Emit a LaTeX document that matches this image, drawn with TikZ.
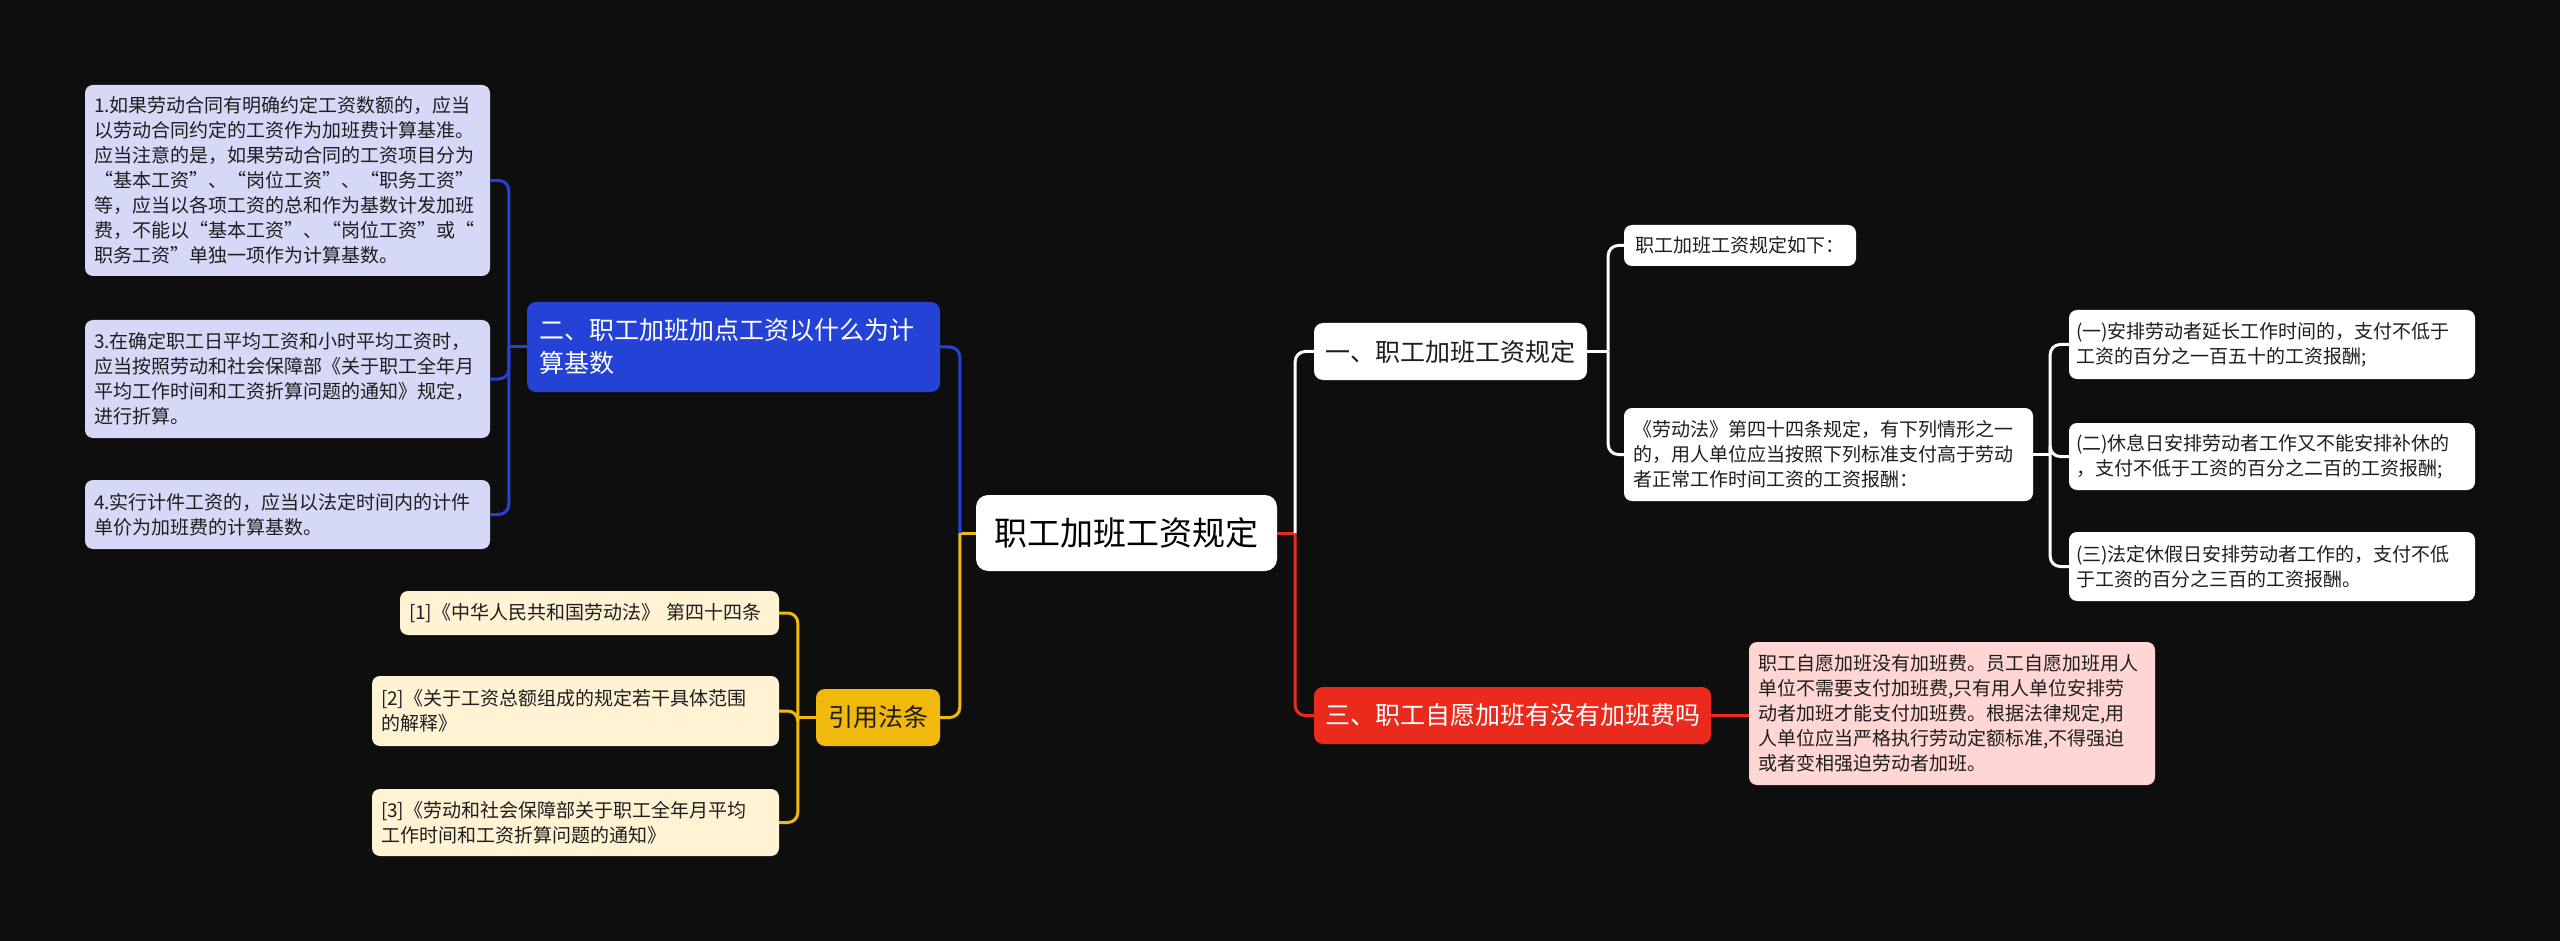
\documentclass[tikz,border=0pt]{standalone}
\usepackage{fontspec}
\setmainfont{Noto Sans CJK SC}
\definecolor{bgc}{RGB}{14,14,14}
\definecolor{lav}{RGB}{213,217,247}
\definecolor{cream}{RGB}{255,243,212}
\definecolor{pinkc}{RGB}{255,214,212}
\definecolor{bluec}{RGB}{37,66,214}
\definecolor{yelc}{RGB}{240,185,12}
\definecolor{redc}{RGB}{233,42,28}
\definecolor{txt}{RGB}{30,30,30}
\begin{document}
\begin{tikzpicture}[x=1pt,y=-1pt,
  base/.style={rounded corners=8pt, inner xsep=9pt, inner ysep=0pt, align=left, text=txt},
  leaf/.style={base, font=\fontsize{19}{25}\selectfont},
  leafL/.style={leaf, fill=lav},
  leafY/.style={leaf, fill=cream},
  leafW/.style={leaf, fill=white},
  leafP/.style={leaf, fill=pinkc},
  mainnode/.style={rounded corners=9pt, inner sep=0pt, align=left, font=\fontsize{25}{33}\selectfont},
  conn/.style={line width=3pt, rounded corners=10pt},
  bline/.style={conn, draw=bluec},
  yline/.style={conn, draw=yelc},
  rline/.style={conn, draw=redc},
  wline/.style={conn, draw=white}
]
\fill[bgc] (0,0) rectangle (2560,941);
\useasboundingbox (0,0) rectangle (2560,941);

% root
\node[rounded corners=12pt, fill=white, text=black, inner sep=0pt,
  minimum width=301pt, minimum height=76pt, font=\fontsize{33}{40}\selectfont]
  (root) at (1126.5,533) {职工加班工资规定};

% left: blue branch
\node[mainnode, fill=bluec, text=white, minimum width=413pt, minimum height=90pt,
  text width=389pt] (bnode) at (733.5,347)
  {二、职工加班加点工资以什么为计\\算基数};
\node[leafL, minimum width=405pt, minimum height=191pt, text width=387pt] (L1) at (287.5,180.5)
  {1.如果劳动合同有明确约定工资数额的，应当\\以劳动合同约定的工资作为加班费计算基准。\\应当注意的是，如果劳动合同的工资项目分为\\“基本工资”、“岗位工资”、“职务工资”\\等，应当以各项工资的总和作为基数计发加班\\费，不能以“基本工资”、“岗位工资”或“\\职务工资”单独一项作为计算基数。};
\node[leafL, minimum width=405pt, minimum height=118pt, text width=387pt] (L3) at (287.5,379)
  {3.在确定职工日平均工资和小时平均工资时，\\应当按照劳动和社会保障部《关于职工全年月\\平均工作时间和工资折算问题的通知》规定，\\进行折算。};
\node[leafL, minimum width=405pt, minimum height=69pt, text width=387pt] (L4) at (287.5,514.5)
  {4.实行计件工资的，应当以法定时间内的计件\\单价为加班费的计算基数。};

% left: yellow branch
\node[mainnode, fill=yelc, text=txt, minimum width=124pt, minimum height=57pt] (ynode) at (878,717.5) {引用法条};
\node[leafY, minimum width=379pt, minimum height=44pt, text width=361pt] (Y1) at (589.5,613)
  {[1]《中华人民共和国劳动法》 第四十四条};
\node[leafY, minimum width=407pt, minimum height=70pt, text width=389pt] (Y2) at (575.5,711)
  {[2]《关于工资总额组成的规定若干具体范围\\的解释》};
\node[leafY, minimum width=407pt, minimum height=67pt, text width=389pt] (Y3) at (575.5,822.5)
  {[3]《劳动和社会保障部关于职工全年月平均\\工作时间和工资折算问题的通知》};

% right: white branch
\node[mainnode, fill=white, text=txt, minimum width=273pt, minimum height=57pt] (one) at (1450.5,351.5) {一、职工加班工资规定};
\node[leafW, minimum width=232pt, minimum height=41pt] (R1) at (1740,245.5) {职工加班工资规定如下：};
\node[leafW, minimum width=409pt, minimum height=93pt, text width=391pt] (R2) at (1828.5,454.5)
  {《劳动法》第四十四条规定，有下列情形之一\\的，用人单位应当按照下列标准支付高于劳动\\者正常工作时间工资的工资报酬：};
\node[leafW, minimum width=406pt, minimum height=69pt, text width=392pt, inner xsep=7pt] (S1) at (2272,344.5)
  {(一)安排劳动者延长工作时间的，支付不低于\\工资的百分之一百五十的工资报酬;};
\node[leafW, minimum width=406pt, minimum height=67pt, text width=392pt, inner xsep=7pt] (S2) at (2272,456.5)
  {(二)休息日安排劳动者工作又不能安排补休的\\，支付不低于工资的百分之二百的工资报酬;};
\node[leafW, minimum width=406pt, minimum height=69pt, text width=392pt, inner xsep=7pt] (S3) at (2272,566.5)
  {(三)法定休假日安排劳动者工作的，支付不低\\于工资的百分之三百的工资报酬。};

% right: red branch
\node[mainnode, fill=redc, text=white, minimum width=397pt, minimum height=57pt] (three) at (1512.5,715.5) {三、职工自愿加班有没有加班费吗};
\node[leafP, minimum width=406pt, minimum height=143pt, text width=388pt] (P1) at (1952,713.5)
  {职工自愿加班没有加班费。员工自愿加班用人\\单位不需要支付加班费,只有用人单位安排劳\\动者加班才能支付加班费。根据法律规定,用\\人单位应当严格执行劳动定额标准,不得强迫\\或者变相强迫劳动者加班。};

% junction coordinates
\path (root.west) ++(-16,0) coordinate (jL);
\path (root.east) ++(18,0) coordinate (jR);
\path (bnode.west) ++(-18,0) coordinate (jB);
\path (ynode.west) ++(-18,0) coordinate (jY);
\path (one.east) ++(21,0) coordinate (j1);
\path (R2.east) ++(17,0) coordinate (j2);

% connectors from root
\draw[yline] (root.west) -- (jL);
\draw[yline] (jL) |- (ynode.east);
\draw[bline] (jL) |- (bnode.east);
\draw[rline] (root.east) -- (jR);
\draw[rline] (jR) |- (three.west);
\draw[wline] (jR) |- (one.west);

% blue group
\draw[bline] (bnode.west) -- (jB);
\draw[bline] (jB) |- (L1.east);
\draw[bline] (jB) |- (L3.east);
\draw[bline] (jB) |- (L4.east);

% yellow group
\draw[yline] (ynode.west) -- (jY);
\draw[yline] (jY) |- (Y1.east);
\draw[yline] (jY) |- (Y2.east);
\draw[yline] (jY) |- (Y3.east);

% white group
\draw[wline] (one.east) -- (j1);
\draw[wline] (j1) |- (R1.west);
\draw[wline] (j1) |- (R2.west);
\draw[wline] (R2.east) -- (j2);
\draw[wline] (j2) |- (S1.west);
\draw[wline] (j2) |- (S2.west);
\draw[wline] (j2) |- (S3.west);

% red group
\draw[rline] (three.east) -- (three.east -| P1.west);
\end{tikzpicture}
\end{document}
